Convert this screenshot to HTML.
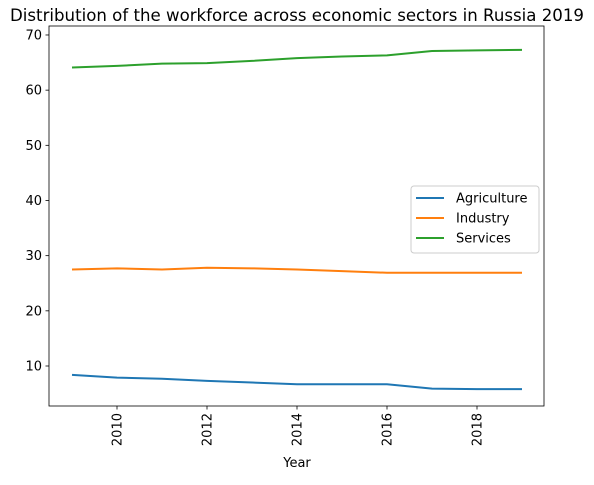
<!DOCTYPE html>
<html><head><meta charset="utf-8"><style>
body{margin:0;background:#fff;font-family:"DejaVu Sans","Liberation Sans",sans-serif;}
svg text{font-family:"DejaVu Sans","Liberation Sans",sans-serif;}
</style></head><body>
<svg id="c" width="594" height="481" xmlns="http://www.w3.org/2000/svg"></svg>
<script>
const years=[2009,2010,2011,2012,2013,2014,2015,2016,2017,2018,2019];
const agriculture=[8.4,7.9,7.7,7.3,7.0,6.7,6.7,6.7,5.9,5.8,5.8];
const industry=[27.5,27.7,27.5,27.8,27.7,27.5,27.2,26.9,26.9,26.9,26.9];
const services=[64.1,64.4,64.8,64.9,65.3,65.8,66.1,66.3,67.1,67.2,67.3];
const yTicks=[10,20,30,40,50,60,70];
const xTicks=[2010,2012,2014,2016,2018];
const seriesNames=["Agriculture","Industry","Services"];
const colors=["#1f77b4","#ff7f0e","#2ca02c"];
const svg=document.getElementById('c');const NS="http://www.w3.org/2000/svg";
const L=49,R=544,T=26,B=406;
const x=v=>117+(v-2010)*45;
const y=v=>366-(v-10)*5.517;
function mk(tag,attrs,parent){const e=document.createElementNS(NS,tag);for(const k in attrs)e.setAttribute(k,attrs[k]);(parent||svg).appendChild(e);return e;}
const frame=mk('rect',{x:L,y:T,width:R-L,height:B-T,fill:'none',stroke:'#000','stroke-width':0.8});


yTicks.forEach(t=>{const g=mk('g',{});


mk('line',{x1:L-3.5,x2:L,y1:y(t),y2:y(t),stroke:'#000','stroke-width':0.8},g);
const tx=mk('text',{x:L-7,y:y(t)+4.5,'text-anchor':'end','font-size':13},g);tx.textContent=t;});
xTicks.forEach(t=>{const g=mk('g',{});


mk('line',{x1:x(t),x2:x(t),y1:B,y2:B+3.5,stroke:'#000','stroke-width':0.8},g);
const tx=mk('text',{x:x(t)+4.5,y:B+7,'text-anchor':'end','font-size':13,transform:`rotate(-90 ${x(t)+4.5} ${B+7})`},g);tx.textContent=t;});
[agriculture,industry,services].forEach((s,i)=>{const p=mk('polyline',{points:s.map((v,j)=>x(years[j])+','+y(v)).join(' '),fill:'none',stroke:colors[i],'stroke-width':2});

});
const xt=mk('text',{x:297,y:467,'text-anchor':'middle','font-size':13});xt.textContent='Year';


const tt=mk('text',{x:297,y:21,'text-anchor':'middle','font-size':16.5,textLength:574,lengthAdjust:'spacingAndGlyphs'});tt.textContent='Distribution of the workforce across economic sectors in Russia 2019';


const lg=mk('g',{});


mk('rect',{x:411,y:186,width:128,height:67,rx:3,fill:'#fff',stroke:'#ccc','fill-opacity':0.8},lg);
seriesNames.forEach((n,i)=>{const g=mk('g',{},lg);


const yy=198+i*20;mk('line',{x1:416,x2:444,y1:yy,y2:yy,stroke:colors[i],'stroke-width':2},g);
const t=mk('text',{x:456,y:yy+4.5,'font-size':13},g);t.textContent=n;});
</script>
</body></html>
